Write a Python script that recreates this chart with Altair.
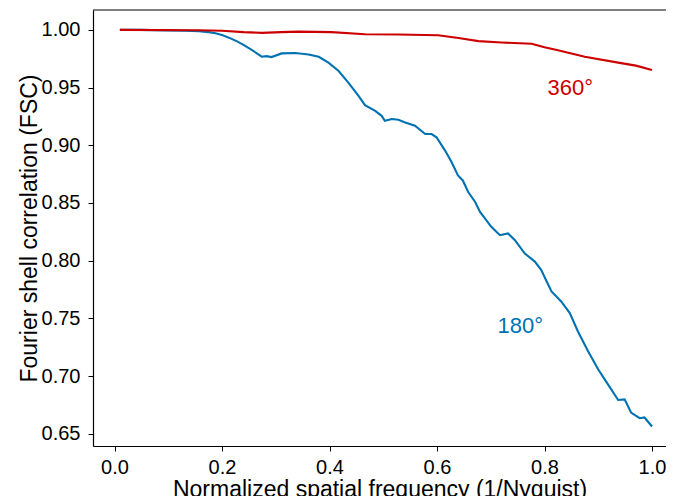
import altair as alt
import pandas as pd

# 180° curve
x180 = [0.01, 0.05, 0.095, 0.13, 0.157, 0.175, 0.188, 0.20, 0.218, 0.228, 0.24, 0.256,
        0.274, 0.283, 0.292, 0.311, 0.336, 0.361, 0.380, 0.398, 0.417, 0.435, 0.454,
        0.466, 0.485, 0.497, 0.503, 0.516, 0.528, 0.541, 0.559, 0.578, 0.590, 0.599,
        0.615, 0.627, 0.639, 0.648, 0.658, 0.671, 0.680, 0.701, 0.717, 0.732, 0.745,
        0.763, 0.782, 0.794, 0.804, 0.813, 0.831, 0.847, 0.862, 0.881, 0.900, 0.918,
        0.937, 0.949, 0.961, 0.977, 0.986, 1.0]
y180 = [1.0, 1.0, 0.9995, 0.9992, 0.9988, 0.998, 0.997, 0.9955, 0.9922, 0.990, 0.987, 0.9824,
        0.9767, 0.9772, 0.9764, 0.9796, 0.980, 0.9787, 0.9767, 0.9716, 0.9643, 0.9543, 0.9428,
        0.9347, 0.9298, 0.9255, 0.9212, 0.9227, 0.9221, 0.9198, 0.9169, 0.9097, 0.9097, 0.9069,
        0.8954, 0.8854, 0.8738, 0.8695, 0.8595, 0.8509, 0.8423, 0.8293, 0.8221, 0.8236, 0.8178,
        0.8063, 0.7992, 0.7919, 0.7819, 0.7733, 0.7647, 0.7546, 0.7388, 0.7216, 0.7057, 0.6928,
        0.6793, 0.6798, 0.6684, 0.6635, 0.6641, 0.6563]

# 360° curve
x360 = [0.01, 0.157, 0.2, 0.24, 0.274, 0.31, 0.342, 0.404, 0.466, 0.528, 0.602, 0.64,
        0.677, 0.72, 0.776, 0.80, 0.825, 0.875, 0.937, 0.97, 1.0]
y360 = [1.0, 0.9997, 0.9992, 0.998, 0.9974, 0.998, 0.9985, 0.998, 0.9962, 0.996, 0.9953,
        0.993, 0.9902, 0.989, 0.988, 0.985, 0.9824, 0.9767, 0.9716, 0.969, 0.9652]

labels = ["180°", "360°"]
label_x = [0.755, 0.848]
label_y = [0.7374, 0.9436]
colors = ["#0072B2", "#CC0000"]

x_ticks = [0.0, 0.2, 0.4, 0.6, 0.8, 1.0]
y_ticks = [0.65, 0.70, 0.75, 0.80, 0.85, 0.90, 0.95, 1.00]

df = pd.concat([
    pd.DataFrame({"x": x180, "y": y180, "series": labels[0]}),
    pd.DataFrame({"x": x360, "y": y360, "series": labels[1]}),
])
df_lab = pd.DataFrame({"x": label_x, "y": label_y, "series": labels})

W, H = 573, 436
FONT = "Liberation Sans"

xscale = alt.Scale(domain=[-0.0400, 1.0260], nice=False, zero=False)
yscale = alt.Scale(domain=[0.6394, 1.0172], nice=False, zero=False)
cscale = alt.Scale(domain=labels, range=colors)

xaxis = alt.Axis(values=x_ticks, format=".1f", title="Normalized spatial frequency (1/Nyquist)",
                 grid=False, domainColor="black", domainWidth=1.2, tickColor="black",
                 tickSize=5, tickWidth=1, labelFontSize=20, labelFont=FONT, labelColor="black",
                 labelPadding=6, titleFontSize=23, titleFont=FONT, titleFontWeight="normal",
                 titleColor="black", titlePadding=1, labelFlush=False)
yaxis = alt.Axis(values=y_ticks, format=".2f", title="Fourier shell correlation (FSC)",
                 grid=False, domainColor="black", domainWidth=1.2, tickColor="black",
                 tickSize=5, tickWidth=1, labelFontSize=20, labelFont=FONT, labelColor="black",
                 labelPadding=8, titleFontSize=23, titleFont=FONT, titleFontWeight="normal",
                 titleColor="black", titlePadding=0, labelFlush=False)

lines = alt.Chart(df).mark_line(strokeWidth=2.1, interpolate="linear").encode(
    x=alt.X("x:Q", scale=xscale, axis=xaxis),
    y=alt.Y("y:Q", scale=yscale, axis=yaxis),
    color=alt.Color("series:N", scale=cscale, legend=None),
    detail="series:N",
)

texts = alt.Chart(df_lab).mark_text(fontSize=22, font=FONT, align="center",
                                    baseline="alphabetic").encode(
    x=alt.X("x:Q", scale=xscale),
    y=alt.Y("y:Q", scale=yscale),
    text="series:N",
    color=alt.Color("series:N", scale=cscale, legend=None),
)

top = alt.Chart(pd.DataFrame({"a": [0]})).mark_rule(color="black", strokeWidth=1.2).encode(
    x=alt.value(0), x2=alt.value(W), y=alt.value(0)
)

chart = alt.layer(lines, texts, top).properties(
    width=W, height=H,
    autosize=alt.AutoSizeParams(type="none"),
    padding={"left": 85, "top": 2, "right": 0, "bottom": 50},
).configure_view(stroke=None)

chart.save("out.html", embed_options={"renderer": "svg", "actions": False})
